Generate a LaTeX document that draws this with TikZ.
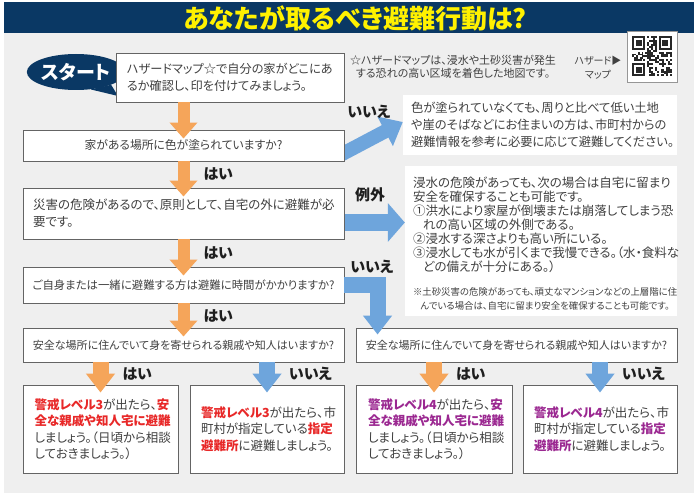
\documentclass[tikz,border=0pt]{standalone}
\usepackage{fontspec}
\setmainfont{Noto Sans CJK JP}[RawFeature={+palt}]
\usetikzlibrary{arrows.meta,positioning,shapes.geometric}
\definecolor{navyc}{RGB}{10,56,100}
\definecolor{titleyellow}{RGB}{255,241,0}
\definecolor{bggray}{RGB}{239,239,239}
\definecolor{boxgray}{RGB}{100,100,100}
\definecolor{txtgray}{RGB}{64,64,64}
\definecolor{labelblack}{RGB}{30,30,30}
\definecolor{arrorange}{RGB}{245,165,90}
\definecolor{arrblue}{RGB}{110,165,220}
\definecolor{warnred}{RGB}{232,40,40}
\definecolor{warnpurple}{RGB}{155,40,145}
\definecolor{qrgray}{RGB}{150,150,150}
\definecolor{qrdark}{RGB}{40,40,40}
\newcommand\redlv[1]{{\bfseries\color{warnred}#1}}
\newcommand\purlv[1]{{\bfseries\color{warnpurple}#1}}
\pgfdeclarelayer{back}
\pgfsetlayers{back,main}

\begin{document}
\begin{tikzpicture}[x=1pt,y=-1pt,
  qbox/.style={draw=boxgray,fill=white,line width=0.9pt,inner sep=0pt,text=txtgray},
  lvbox/.style={qbox,minimum width=155pt,minimum height=88pt,text width=132pt,align=left,
    font=\fontsize{12.5}{16.5}\selectfont},
  notebox/.style={fill=white,inner sep=0pt,text=txtgray},
  ans/.style={font=\fontsize{15}{15}\selectfont\bfseries,text=labelblack,inner sep=0pt},
  ansright/.style={ans,anchor=west,xshift=14pt},
  orangearrow/.style={draw=arrorange,line width=#1},
  bluearrow/.style={draw=arrblue,line width=#1},
  headA/.style={-{Triangle[width=27pt,length=16pt]}},
  headB/.style={-{Triangle[width=28pt,length=19pt]}},
  headC/.style={-{Triangle[width=38pt,length=17pt]}},
  headD/.style={-{Triangle[width=32pt,length=20pt]}}]
  \useasboundingbox (0,0) rectangle (700,497);
  \begin{pgfonlayer}{back}
    \fill[white] (0,0) rectangle (700,497);
    \fill[bggray] (4,2) rectangle (694,493);
    \fill[navyc] (4,2) rectangle (694,33);
  \end{pgfonlayer}
  \node[font=\fontsize{26}{26}\selectfont\bfseries,text=titleyellow,inner sep=0pt] (title) at (355,18) {あなたが取るべき避難行動は?};

  % QR code
  \node[draw=qrgray,fill=white,line width=0.6pt,minimum width=50pt,minimum height=51pt,inner sep=0pt] (qr) at (652,56.5) {};
  \pgfmathsetseed{11}
  \foreach \i in {0,...,20} \foreach \j in {0,...,20} {
    \pgfmathtruncatemacro{\f}{or(and(\i<8,\j<8),or(and(\i>12,\j<8),and(\i<8,\j>12)))}
    \pgfmathtruncatemacro{\r}{rnd+0.55}
    \ifnum\f=0 \ifnum\r=1 \fill[qrdark] (632+1.9*\i,36.5+1.9*\j) rectangle ++(1.9,1.9); \fi\fi
  }
  \foreach \u/\v in {0/0,14/0,0/14} {
    \fill[qrdark] (632+1.9*\u,36.5+1.9*\v) rectangle ++(13.3,13.3);
    \fill[white] (633.9+1.9*\u,38.4+1.9*\v) rectangle ++(9.5,9.5);
    \fill[qrdark] (635.8+1.9*\u,40.3+1.9*\v) rectangle ++(5.7,5.7);
  }
  \node[text=txtgray,align=center,inner sep=0pt,font=\fontsize{10}{14}\selectfont] (qrlabel) at (598,67.5) {ハザード▶\\マップ};
  \node[text=txtgray,align=center,inner sep=0pt,font=\fontsize{11}{13.5}\selectfont] (hznote) at (453,67) {☆ハザードマップは、浸水や土砂災害が発生\\する恐れの高い区域を着色した地図です。};

  % start
  \node[ellipse,fill=navyc,minimum width=86pt,minimum height=36pt,inner sep=0pt,text=white,
    font=\fontsize{19}{19}\selectfont\bfseries] (start) at (76,72) {スタート};
  \coordinate (tail) at (118,96);
  \fill[navyc] (start.-50) -- (tail) -- (start.-20) -- cycle;

  % left column
  \node[qbox,minimum width=228pt,minimum height=49pt,text width=206pt,align=left,
    font=\fontsize{12.2}{17}\selectfont] (map) at (230,77.5) {ハザードマップ☆で自分の家がどこにあ\\るか確認し、印を付けてみましょう。};
  \node[qbox,minimum width=321pt,minimum height=31pt,align=center,
    font=\fontsize{11.8}{17}\selectfont] (q2) at (183.5,145.5) {家がある場所に色が塗られていますか?};
  \node[qbox,minimum width=321pt,minimum height=51pt,text width=301pt,align=left,
    font=\fontsize{12.5}{17}\selectfont] (q3) at (183.5,213.5) {災害の危険があるので、原則として、自宅の外に避難が必\\要です。};
  \node[qbox,minimum width=321pt,minimum height=36pt,align=center,
    font=\fontsize{11.4}{17}\selectfont] (q4) at (183.5,285) {ご自身または一緒に避難する方は避難に時間がかかりますか?};
  \node[qbox,minimum width=321pt,minimum height=34pt,align=center,
    font=\fontsize{11}{17}\selectfont] (q5L) at (183.5,345) {安全な場所に住んでいて身を寄せられる親戚や知人はいますか?};
  \node[qbox,minimum width=321pt,minimum height=34pt,align=center,
    font=\fontsize{11}{17}\selectfont] (q5R) at (516.5,345) {安全な場所に住んでいて身を寄せられる親戚や知人はいますか?};

  % right notes
  \node[notebox,minimum width=274pt,minimum height=60pt,text width=258pt,align=left,
    font=\fontsize{12.3}{17}\selectfont] (note1) at (540,125) {色が塗られていなくても、周りと比べて低い土地\\や崖のそばなどにお住まいの方は、市町村からの\\避難情報を参考に必要に応じて避難してください。};
  \node[notebox,minimum width=272pt,minimum height=150pt] (note2) at (541,241) {};
  \node[notebox,fill=none,anchor=north west,align=left,font=\fontsize{12.5}{14}\selectfont]
    (exc) at ([xshift=8pt,yshift=-11pt]note2.north west) {浸水の危険があっても、次の場合は自宅に留まり\\安全を確保することも可能です。\\①洪水により家屋が倒壊または崩落してしまう恐\\\hspace*{0.8em}れの高い区域の外側である。\\②浸水する深さよりも高い所にいる。\\③浸水しても水が引くまで我慢できる。（水・食料な\\\hspace*{0.8em}どの備えが十分にある。）};
  \node[notebox,fill=none,below=14pt of exc.south west,anchor=north west,align=left,
    font=\fontsize{9.4}{14.5}\selectfont] (mansion) {※土砂災害の危険があっても、頑丈なマンションなどの上層階に住\\\hspace*{0.8em}んでいる場合は、自宅に留まり安全を確保することも可能です。};

  % bottom boxes
  \node[lvbox] (b1) at (100.5,429) {\redlv{警戒レベル3}が出たら、\redlv{安}\\\redlv{全な親戚や知人宅に避難}\\しましょう。（日頃から相談\\しておきましょう。）};
  \node[lvbox,minimum width=154pt] (b2) at (267,429) {\redlv{警戒レベル3}が出たら、市\\町村が指定している\redlv{指定}\\\redlv{避難所}に避難しましょう。};
  \node[lvbox,minimum width=156pt] (b3) at (434,429) {\purlv{警戒レベル4}が出たら、\purlv{安}\\\purlv{全な親戚や知人宅に避難}\\しましょう。（日頃から相談\\しておきましょう。）};
  \node[lvbox,minimum width=154pt] (b4) at (600,429) {\purlv{警戒レベル4}が出たら、市\\町村が指定している\purlv{指定}\\\purlv{避難所}に避難しましょう。};

  % orange arrows down the left column
  \draw[orangearrow=12pt,headA,shorten >=-9pt] (q2.north |- map.south) -- (q2.north);
  \draw[orangearrow=12pt,headA,shorten >=-9pt] (q2.south) -- node[ansright] (yes1) {はい} (q3.north);
  \draw[orangearrow=12pt,headA,shorten >=-9pt] (q3.south) -- node[ansright] (yes2) {はい} (q4.north);
  \draw[orangearrow=12pt,headA,shorten >=-9pt] (q4.south) -- node[ansright] (yes3) {はい} (q5L.north);

  % blue arrows to the notes
  \begin{pgfonlayer}{back}
    \draw[bluearrow=14pt,headD] ([xshift=-6pt,yshift=-10.5pt]q2.east) -- ([yshift=3pt]note1.west);
    \draw[bluearrow=17pt,headC] ([yshift=-9pt]q3.east) -- ([yshift=-9pt]q3.east -| note2.west);
  \end{pgfonlayer}
  \node[ans] (no1) at (369,112) {いいえ};
  \node[ans] (except) at (370,195) {例外};
  \draw[bluearrow=16pt,headB,line join=miter,shorten >=-7pt] (q4.east) -| ([xshift=22pt]q5R.north west);
  \node[ans] (no2) at (372,267) {いいえ};

  % last answers
  \draw[orangearrow=16pt,headB,shorten >=-8pt] (b1.north |- q5L.south) -- node[ansright] (yes4) {はい} (b1.north);
  \draw[bluearrow=16pt,headB,shorten >=-8pt] (b2.north |- q5L.south) -- node[ansright] (no3) {いいえ} (b2.north);
  \draw[orangearrow=16pt,headB,shorten >=-8pt] (b3.north |- q5R.south) -- node[ansright] (yes5) {はい} (b3.north);
  \draw[bluearrow=16pt,headB,shorten >=-8pt] (b4.north |- q5R.south) -- node[ansright] (no4) {いいえ} (b4.north);
\end{tikzpicture}
\end{document}
